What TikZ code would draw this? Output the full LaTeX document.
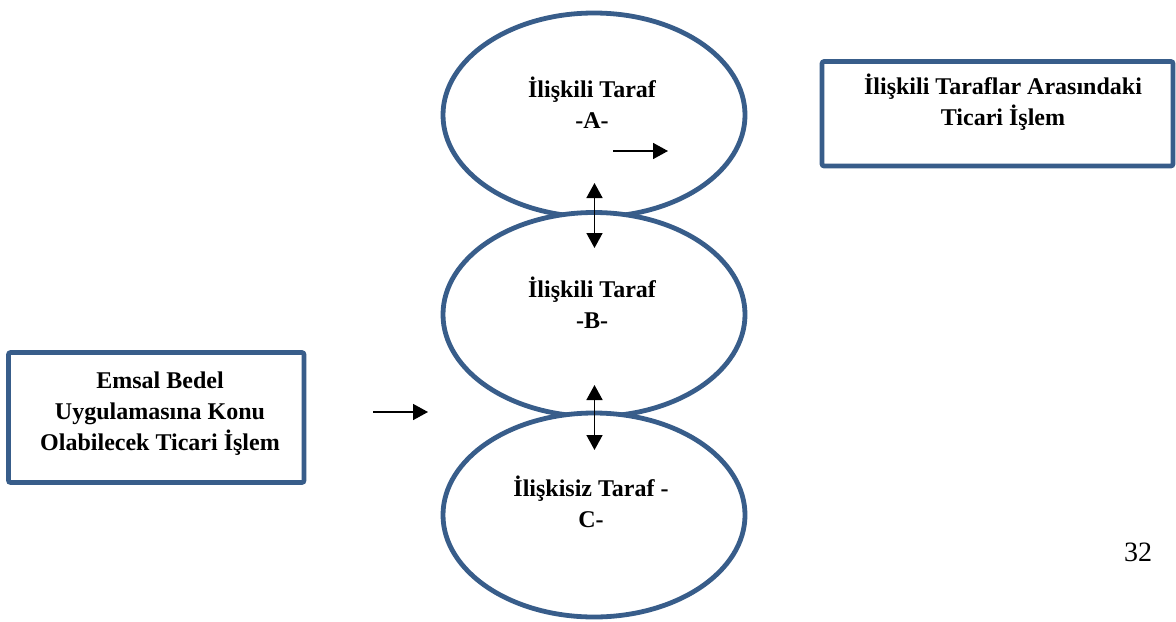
\documentclass[tikz,border=0pt]{standalone}
\usepackage{fontspec}
\setmainfont{Liberation Serif}
\usetikzlibrary{shapes.geometric,arrows.meta}
\definecolor{frameblue}{HTML}{385D8A}
\tikzset{
  party/.style={ellipse, draw=frameblue, line width=2.4pt, fill=white,
    minimum width=151pt, minimum height=102pt, inner sep=0pt},
  infobox/.style={rectangle, draw=frameblue, line width=2.3pt, fill=white,
    rounded corners=1pt, inner sep=0pt},
  lbl/.style={align=center, font=\bfseries\fontsize{12}{15.5}\selectfont,
    inner sep=0pt, anchor=base},
  flow/.style={-{Triangle[length=7.5pt,width=8pt]}, line width=0.8pt},
  twoway/.style={{Triangle[length=7.5pt,width=8pt]}-{Triangle[length=7.5pt,width=8pt]}, line width=0.8pt}
}
\begin{document}
\begin{tikzpicture}[x=0.5pt, y=-0.5pt]
  \useasboundingbox (0,0) rectangle (1176,621);

  % the three parties, each lower one overlapping the one above
  \node[party] (A) at (594,115) {};
  \node[party] (B) at (594,314.5) {};
  \node[party] (C) at (594,515) {};

  % explanation boxes
  \node[infobox, minimum width=175.5pt, minimum height=52.25pt] (R) at (997.5,113.75) {};
  \node[infobox, minimum width=147.75pt, minimum height=65pt] (L) at (156.25,417.5) {};

  % labels (base anchor sits on the last line)
  \node[lbl] (Atext) at (592,128) {İlişkili Taraf\\-A-};
  \node[lbl] (Btext) at (592,328) {İlişkili Taraf\\-B-};
  \node[lbl] (Ctext) at (591,527) {İlişkisiz Taraf -\\C-};
  \node[lbl] (Rtext) at (1003,125) {İlişkili Taraflar Arasındaki\\Ticari İşlem};
  \node[lbl] (Ltext) at (160,450) {Emsal Bedel\\Uygulamasına Konu\\Olabilecek Ticari İşlem};

  \node[anchor=base, inner sep=0pt, font=\fontsize{14}{16}\selectfont] (page) at (1138,561) {32};

  % arrows
  \coordinate (a1) at (613,151);
  \coordinate (a2) at (668,151);
  \coordinate (l1) at (373,412);
  \coordinate (l2) at (428,412);
  \coordinate (ab1) at (594.5,183);
  \coordinate (ab2) at (594.5,248);
  \coordinate (bc1) at (594.5,385);
  \coordinate (bc2) at (594.5,450);
  \draw[flow] (a1) -- (a2);
  \draw[flow] (l1) -- (l2);
  \draw[twoway] (ab1) -- (ab2);
  \draw[twoway] (bc1) -- (bc2);
\end{tikzpicture}
\end{document}
